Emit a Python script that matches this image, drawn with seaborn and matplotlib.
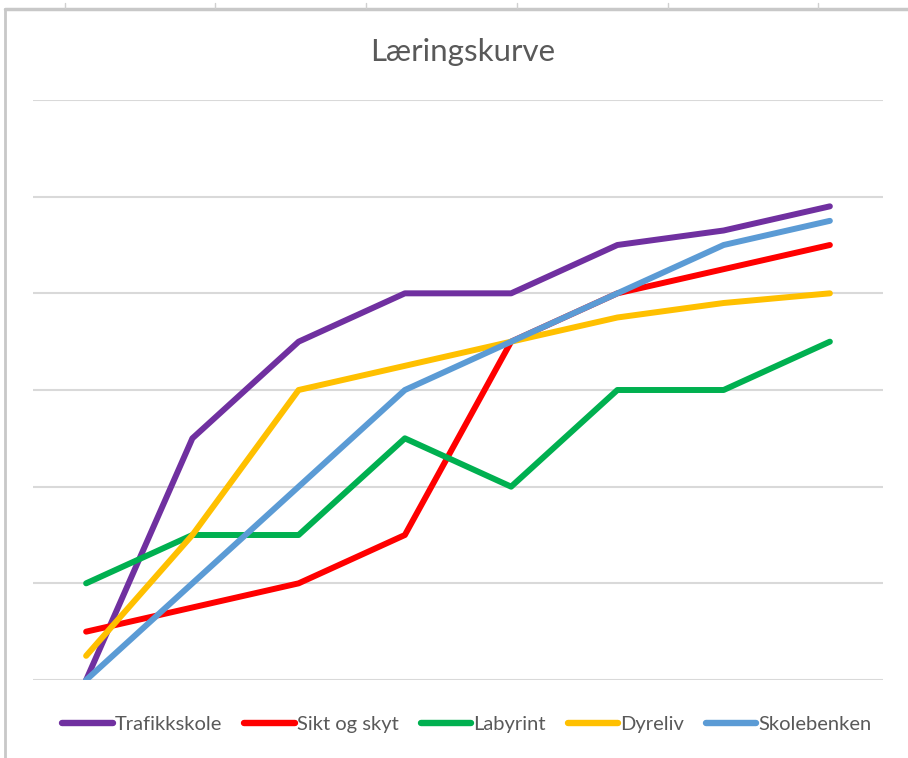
import numpy as np
import pandas as pd
import seaborn as sns
import matplotlib
matplotlib.use("Agg")
import matplotlib.pyplot as plt
from matplotlib.lines import Line2D

attempts = [1, 2, 3, 4, 5, 6, 7, 8]
series_names = ["Trafikkskole", "Sikt og skyt", "Labyrint", "Dyreliv", "Skolebenken"]
trafikkskole = [0.0, 2.5, 3.5, 4.0, 4.0, 4.5, 4.65, 4.9]
sikt_og_skyt = [0.5, 0.75, 1.0, 1.5, 3.5, 4.0, 4.25, 4.5]
labyrint = [1.0, 1.5, 1.5, 2.5, 2.0, 3.0, 3.0, 3.5]
dyreliv = [0.25, 1.5, 3.0, 3.25, 3.5, 3.75, 3.9, 4.0]
skolebenken = [0.0, 1.0, 2.0, 3.0, 3.5, 4.0, 4.5, 4.75]
colors = ["#7030A0", "#FF0000", "#00B050", "#FFC000", "#5B9BD5"]

all_values = [trafikkskole, sikt_og_skyt, labyrint, dyreliv, skolebenken]
rows = []
for name, vals in zip(series_names, all_values):
    for a, v in zip(attempts, vals):
        rows.append({"Forsøk": a, "Verdi": v, "Serie": name})
df = pd.DataFrame(rows)

sns.set_theme(style="white")
plt.rcParams["font.family"] = ["Lato", "DejaVu Sans"]

W, H = 908, 758
fig = plt.figure(figsize=(W / 100, H / 100), dpi=100)
ax = fig.add_axes([33 / W, 1 - 680 / H, (883 - 33) / W, (680 - 100) / H])

sns.lineplot(data=df, x="Forsøk", y="Verdi", hue="Serie", hue_order=series_names,
             palette=colors, linewidth=4.3, ax=ax, legend=False,
             solid_capstyle="round", solid_joinstyle="round", zorder=3)

ax.set_xlim(0.5, 8.5)
ax.set_ylim(0, 6)
ax.set_yticks(np.arange(0, 7, 1))
ax.set_xticks([])
ax.tick_params(left=False, labelleft=False)
ax.grid(axis="y", color="#D9D9D9", linewidth=1.5, zorder=0)
ax.set_xlabel("")
ax.set_ylabel("")
for s in ax.spines.values():
    s.set_visible(False)
ax.set_axisbelow(True)

fig.text(463 / W, 1 - 52 / H, "Læringskurve", ha="center", va="center",
         fontsize=22.5, color="#595959")

handles = [Line2D([0], [0], color=c, lw=4.6, solid_capstyle="round") for c in colors]
fig.legend(handles, series_names, loc="center", bbox_to_anchor=(467 / W, 1 - 724 / H),
           ncol=5, frameon=False, fontsize=14.5, handlelength=2.5, handletextpad=0.1,
           columnspacing=1.1, labelcolor="#595959")

# sheet frame around chart
fig.add_artist(Line2D([5 / W, 1], [1 - 9 / H, 1 - 9 / H], color="#C8C8C8", lw=2.5,
                      transform=fig.transFigure))
fig.add_artist(Line2D([5 / W, 5 / W], [0, 1 - 9 / H], color="#C8C8C8", lw=2.0,
                      transform=fig.transFigure))
for xt in [65, 215, 366, 517, 668, 818]:
    fig.add_artist(Line2D([xt / W, xt / W], [1 - 3 / H, 1 - 8 / H], color="#D0D0D0", lw=1,
                          transform=fig.transFigure))

fig.savefig("out.png", dpi=100, facecolor="white")
